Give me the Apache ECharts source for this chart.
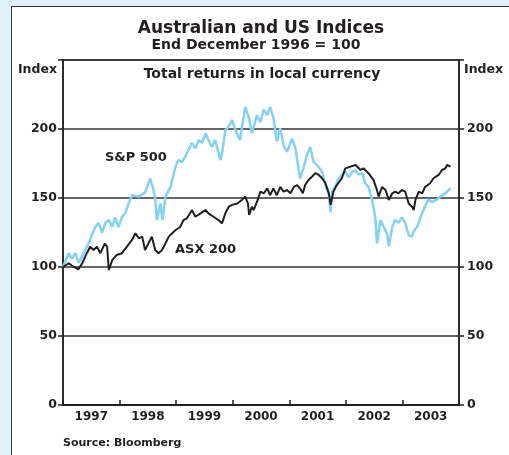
<!DOCTYPE html>
<html>
<head>
<meta charset="utf-8">
<script src="https://cdn.jsdelivr.net/npm/echarts@6/dist/echarts.min.js"></script>
<style>
    html, body { margin: 0; padding: 0; background: #dff1fb; overflow: hidden; }
    #panel {
        position: absolute; left: 11px; top: 6px; width: 700px; height: 700px;
        background: #ffffff; border-left: 1.5px solid #333333; border-top: 1.5px solid #333333;
    }
    #chart { position: absolute; left: 0; top: 0; width: 509px; height: 455px; }
</style>
</head>
<body>
<div id="panel"></div>
<div id="chart"></div>
<script>
// year labels on the x axis
var yearLabels = ['1997', '1998', '1999', '2000', '2001', '2002', '2003']

// S&P 500, total returns, end Dec 1996 = 100
var spxDates = [1997.00, 1997.10, 1997.16, 1997.22, 1997.28, 1997.45, 1997.57, 1997.63, 1997.69, 1997.75,
    1997.81, 1997.87, 1997.92, 1997.98, 1998.04, 1998.10, 1998.16, 1998.22, 1998.34, 1998.45,
    1998.54, 1998.60, 1998.63, 1998.66, 1998.72, 1998.76, 1998.81, 1998.90, 1998.99, 1999.04,
    1999.10, 1999.16, 1999.22, 1999.28, 1999.34, 1999.40, 1999.46, 1999.52, 1999.57, 1999.63,
    1999.69, 1999.78, 1999.81, 1999.87, 1999.93, 1999.99, 2000.05, 2000.13, 2000.22, 2000.28,
    2000.34, 2000.43, 2000.49, 2000.55, 2000.61, 2000.66, 2000.72, 2000.78, 2000.84, 2000.90,
    2000.96, 2001.05, 2001.11, 2001.19, 2001.25, 2001.31, 2001.37, 2001.43, 2001.49, 2001.58,
    2001.64, 2001.70, 2001.73, 2001.76, 2001.81, 2001.87, 2001.93, 2001.99, 2002.05, 2002.11,
    2002.17, 2002.23, 2002.29, 2002.34, 2002.40, 2002.46, 2002.52, 2002.55, 2002.61, 2002.67,
    2002.73, 2002.76, 2002.82, 2002.87, 2002.93, 2002.99, 2003.05, 2003.11, 2003.17, 2003.20,
    2003.26, 2003.32, 2003.40, 2003.46, 2003.52, 2003.61, 2003.70, 2003.76, 2003.85]
var spxValues = [100, 110, 106, 110, 103, 117, 129, 132, 125, 132,
    134, 129, 136, 129, 136, 139, 146, 152, 151, 154,
    164, 156, 149, 134, 146, 134, 151, 158, 173, 177.5,
    176, 180, 185, 190, 186, 192, 190, 197, 192, 187,
    192, 177.5, 182, 199, 202, 206.5, 199, 192, 216, 209,
    197, 210, 205, 214, 210, 216, 208, 191, 200.5, 188,
    183.5, 193, 186, 164, 171.5, 181, 187, 176, 174, 169,
    159, 152, 140, 155, 158, 164, 166.7, 169, 165, 169,
    170, 167, 168, 161, 158, 149, 136, 117, 134, 129,
    124, 115, 129, 134, 132, 136, 132, 123, 122, 126,
    129, 136, 144, 149, 147, 149, 152, 153.4, 157]

// ASX 200, total returns, end Dec 1996 = 100
var asxDates = [1997.00, 1997.10, 1997.19, 1997.27, 1997.34, 1997.42, 1997.48, 1997.54, 1997.60, 1997.66,
    1997.74, 1997.78, 1997.81, 1997.87, 1997.95, 1998.04, 1998.13, 1998.22, 1998.28, 1998.34,
    1998.40, 1998.45, 1998.51, 1998.57, 1998.63, 1998.69, 1998.75, 1998.81, 1998.87, 1998.93,
    1998.99, 1999.07, 1999.13, 1999.19, 1999.28, 1999.34, 1999.43, 1999.52, 1999.57, 1999.66,
    1999.75, 1999.81, 1999.87, 1999.93, 1999.99, 2000.08, 2000.16, 2000.22, 2000.27, 2000.29,
    2000.34, 2000.37, 2000.43, 2000.49, 2000.55, 2000.61, 2000.66, 2000.72, 2000.78, 2000.84,
    2000.90, 2000.96, 2001.02, 2001.08, 2001.14, 2001.19, 2001.24, 2001.28, 2001.34, 2001.40,
    2001.46, 2001.52, 2001.58, 2001.64, 2001.70, 2001.73, 2001.78, 2001.84, 2001.93, 2001.99,
    2002.08, 2002.17, 2002.26, 2002.31, 2002.40, 2002.49, 2002.55, 2002.58, 2002.64, 2002.70,
    2002.76, 2002.82, 2002.87, 2002.93, 2002.99, 2003.05, 2003.11, 2003.17, 2003.20, 2003.23,
    2003.29, 2003.35, 2003.40, 2003.49, 2003.55, 2003.64, 2003.70, 2003.76, 2003.79, 2003.85]
var asxValues = [100, 102.7, 100.2, 98.3, 102.7, 110, 114.7, 112.3, 114.7, 110,
    117, 114.7, 97.8, 105, 108.7, 110, 114.7, 119.6, 124.4, 120.8,
    122, 112.3, 117, 122, 112.3, 110, 112.3, 117, 122, 124.4,
    126.8, 129, 134, 135.3, 141.3, 136.4, 138.9, 141.3, 138.9, 136.4,
    134, 131.6, 138.9, 143.7, 145, 146, 148.6, 151, 146, 137.7,
    143.7, 141.3, 147.3, 154.6, 153.4, 157, 152, 157, 152, 158,
    154.6, 155.8, 153.4, 158, 159.4, 157, 153.4, 159.4, 163, 165.4,
    168, 166.7, 164.3, 160.7, 153.4, 145, 154.6, 159.4, 164.3, 171.5,
    172.7, 173.9, 170.3, 171.5, 168, 163, 155.8, 151, 158, 155.8,
    148.6, 153.4, 154.6, 153.4, 155.8, 154.6, 146, 143.7, 141.3, 148.6,
    154.6, 153.4, 158, 160.7, 164.3, 166.7, 170.3, 171.5, 173.9, 172.7]

var spxData = spxDates.map((d, i) => [d, spxValues[i]])
var asxData = asxDates.map((d, i) => [d, asxValues[i]])

var ink = '#231f20'
var font = '"DejaVu Sans", Verdana, sans-serif'

var yAxisCommon = {
    type: 'value',
    min: 0,
    max: 250,
    interval: 50,
    axisLine: { show: true, lineStyle: { color: ink, width: 1.5 } },
    axisTick: { show: true, inside: false, length: 5, lineStyle: { color: ink, width: 1.5 } },
    axisLabel: {
        color: ink,
        fontFamily: font,
        fontWeight: 'bold',
        fontSize: 12.5,
        formatter: v => v === 250 ? '' : String(v)
    }
}

var option = {
    animation: false,
    graphic: [
        {
            type: 'text', x: 261, y: 29,
            style: { text: 'Australian and US Indices', font: 'bold 17px ' + font, fill: ink, align: 'center', verticalAlign: 'middle' }
        },
        {
            type: 'text', x: 256, y: 45,
            style: { text: 'End December 1996 = 100', font: 'bold 14px ' + font, fill: ink, align: 'center', verticalAlign: 'middle' }
        },
        {
            type: 'text', x: 262, y: 74,
            style: { text: 'Total returns in local currency', font: 'bold 14px ' + font, fill: ink, align: 'center', verticalAlign: 'middle' }
        },
        {
            type: 'text', x: 57, y: 70,
            style: { text: 'Index', font: 'bold 12.5px ' + font, fill: ink, align: 'right', verticalAlign: 'middle' }
        },
        {
            type: 'text', x: 464, y: 70,
            style: { text: 'Index', font: 'bold 12.5px ' + font, fill: ink, align: 'left', verticalAlign: 'middle' }
        },
        {
            type: 'text', x: 105, y: 158,
            style: { text: 'S&P 500', font: 'bold 13px ' + font, fill: ink, align: 'left', verticalAlign: 'middle' }
        },
        {
            type: 'text', x: 175, y: 250,
            style: { text: 'ASX 200', font: 'bold 13px ' + font, fill: ink, align: 'left', verticalAlign: 'middle' }
        },
        {
            type: 'text', x: 63, y: 443,
            style: { text: 'Source: Bloomberg', font: 'bold 11px ' + font, fill: ink, align: 'left', verticalAlign: 'middle' }
        }
    ],
    grid: {
        left: 63,
        right: 50,
        top: 60,
        bottom: 50,
        show: true,
        backgroundColor: 'transparent',
        borderColor: ink,
        borderWidth: 1.5
    },
    xAxis: [
        {
            type: 'category',
            data: yearLabels,
            boundaryGap: true,
            axisLine: { show: true, lineStyle: { color: ink, width: 2 } },
            axisTick: { show: true, inside: true, length: 5, alignWithLabel: false, lineStyle: { color: ink, width: 1.5 } },
            axisLabel: { color: ink, fontFamily: font, fontWeight: 'bold', fontSize: 12, margin: 6 },
            splitLine: { show: false }
        },
        {
            type: 'value',
            min: 1997,
            max: 2004,
            show: false,
            splitLine: { show: false }
        }
    ],
    yAxis: [
        Object.assign({}, yAxisCommon, {
            position: 'left',
            axisLabel: Object.assign({}, yAxisCommon.axisLabel, { margin: 6 }),
            splitLine: { show: true, lineStyle: { color: '#333333', width: 1.5 } }
        }),
        Object.assign({}, yAxisCommon, {
            position: 'right',
            axisLabel: Object.assign({}, yAxisCommon.axisLabel, { margin: 8 }),
            splitLine: { show: false }
        })
    ],
    series: [
        {
            name: 'S&P 500',
            type: 'line',
            xAxisIndex: 1,
            yAxisIndex: 0,
            showSymbol: false,
            lineStyle: { color: '#84d1f3', width: 2.5 },
            data: spxData
        },
        {
            name: 'ASX 200',
            type: 'line',
            xAxisIndex: 1,
            yAxisIndex: 0,
            showSymbol: false,
            lineStyle: { color: ink, width: 2 },
            data: asxData
        }
    ]
}

var myChart = echarts.init(document.getElementById('chart'))
myChart.setOption(option)
</script>
</body>
</html>
